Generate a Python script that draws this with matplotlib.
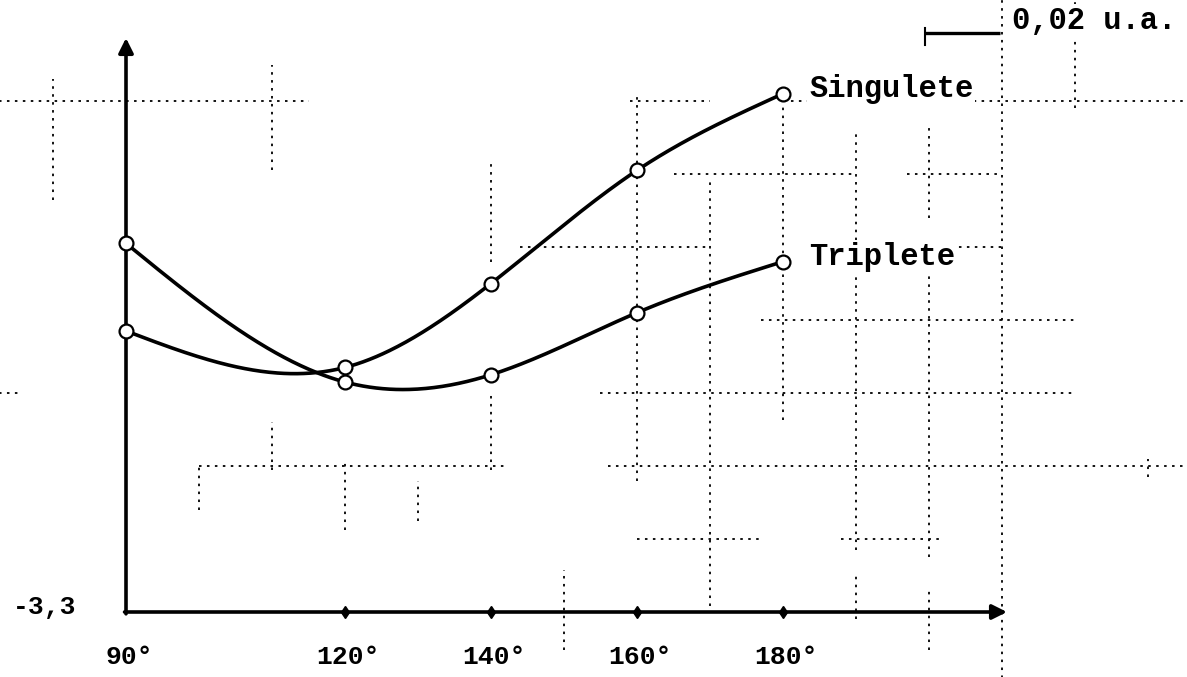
import numpy as np
import matplotlib
matplotlib.use("Agg")
import matplotlib.pyplot as plt

# ---------------- data ----------------
angles = [90, 120, 140, 160, 180]
singulete = [-3.223, -3.233, -3.210, -3.179, -3.158]
triplete = [-3.199, -3.237, -3.235, -3.218, -3.204]
tick_labels = ["90°", "120°", "140°", "160°", "180°"]
y_label_value = -3.3
series_names = ["Singulete", "Triplete"]
scale_text = "0,02 u.a."

# graph-paper background (grid units: col -> 10°, row -> 0.02 u.a.)
grid_h = [(7, -1.75, 2.5), (7, 6.9, 8.0), (7, 9.0, 14.6),
          (6, 7.5, 10.0), (6, 10.7, 12.0),
          (5, 5.4, 8.0), (5, 11.3, 12.0),
          (4, 8.7, 13.0),
          (3, -1.75, -1.45), (3, 6.5, 13.0),
          (2, 1.0, 5.2), (2, 6.6, 14.6),
          (1, 7.0, 8.7), (1, 9.8, 11.2)]
grid_v = [(-1, 5.64, 7.3), (1, 1.4, 2.0), (2, 6.05, 7.5), (2, 1.95, 2.6),
          (3, 1.12, 2.08), (4, 1.25, 1.8), (5, 4.8, 6.2), (5, 1.95, 2.97),
          (6, -0.52, 0.58), (7, 1.8, 7.05), (8, 0.08, 5.95), (9, 2.63, 6.93),
          (10, 0.85, 6.6), (10, -0.1, 0.5), (11, 5.4, 6.64), (11, 0.75, 5.03),
          (11, -0.52, 0.3), (12, -0.95, 8.4), (13, 6.9, 8.4), (14, 1.85, 2.1)]


def natural_spline(x, y, xs):
    x = np.asarray(x, float)
    y = np.asarray(y, float)
    n = len(x)
    h = np.diff(x)
    A = np.zeros((n, n))
    b = np.zeros(n)
    A[0, 0] = A[-1, -1] = 1.0
    for i in range(1, n - 1):
        A[i, i - 1] = h[i - 1]
        A[i, i] = 2 * (h[i - 1] + h[i])
        A[i, i + 1] = h[i]
        b[i] = 3 * ((y[i + 1] - y[i]) / h[i] - (y[i] - y[i - 1]) / h[i - 1])
    c = np.linalg.solve(A, b)
    out = np.empty_like(xs)
    for k, xv in enumerate(xs):
        i = min(max(np.searchsorted(x, xv) - 1, 0), n - 2)
        dx = xv - x[i]
        bi = (y[i + 1] - y[i]) / h[i] - h[i] * (2 * c[i] + c[i + 1]) / 3
        di = (c[i + 1] - c[i]) / (3 * h[i])
        out[k] = y[i] + bi * dx + c[i] * dx ** 2 + di * dx ** 3
    return out


# ---------------- figure ----------------
W, H = 1187, 677
fig = plt.figure(figsize=(W / 100, H / 100), dpi=100)
ax = fig.add_axes([0, 0, 1, 1])
PX_DEG = 7.3
PX_UA = 3650.0
X0, Y0 = 126, 612
ax.set_xlim(90 - X0 / PX_DEG, 90 + (W - X0) / PX_DEG)
ax.set_ylim(y_label_value - (H - Y0) / PX_UA, y_label_value + Y0 / PX_UA)
ax.axis("off")

mono = ["Liberation Mono", "DejaVu Sans Mono"]
grid_kw = dict(color="black", lw=1.3, ls=(0, (1.4, 3.0)), zorder=1)
for row, c0, c1 in grid_h:
    yv = y_label_value + 0.02 * row
    ax.plot([90 + 10 * c0, 90 + 10 * c1], [yv, yv], **grid_kw)
for col, r0, r1 in grid_v:
    xv = 90 + 10 * col
    ax.plot([xv, xv], [y_label_value + 0.02 * r0, y_label_value + 0.02 * r1], **grid_kw)

# axes with arrows
x_end = ax.get_xlim()[0] + (1007 / W) * (ax.get_xlim()[1] - ax.get_xlim()[0])
y_end = ax.get_ylim()[1] - (38 / H) * (ax.get_ylim()[1] - ax.get_ylim()[0])
arrow = dict(arrowstyle="-|>", lw=2.6, color="black", mutation_scale=22, shrinkA=0, shrinkB=0)
ax.annotate("", xy=(x_end, y_label_value), xytext=(angles[0] - 0.2, y_label_value),
            arrowprops=arrow, zorder=3)
ax.annotate("", xy=(angles[0], y_end), xytext=(angles[0], y_label_value - 0.0005),
            arrowprops=arrow, zorder=3)

# x ticks and labels
ax.plot(angles[1:], [y_label_value] * (len(angles) - 1), ls="none", marker="d",
        ms=6, color="black", zorder=4)
for a, lab in zip(angles, tick_labels):
    ax.annotate(lab, xy=(a, y_label_value), xytext=(3, -45), textcoords="offset pixels",
                ha="center", va="center", fontsize=19, family=mono, fontweight="bold")
ax.annotate("-3,3", xy=(angles[0], y_label_value), xytext=(-81, 5),
            textcoords="offset pixels", ha="center", va="center",
            fontsize=19, family=mono, fontweight="bold")

# curves
xs = np.linspace(angles[0], angles[-1], 400)
label_box = dict(facecolor="white", edgecolor="none", pad=1.0)
for vals, name in zip([singulete, triplete], series_names):
    ax.plot(xs, natural_spline(angles, vals, xs), color="black", lw=2.6,
            solid_capstyle="round", zorder=5)
    ax.plot(angles, vals, ls="none", marker="o", ms=10, mfc="white", mec="black",
            mew=1.6, zorder=6)
    ax.annotate(name, xy=(angles[-1], vals[-1]), xytext=(26, 5), textcoords="offset pixels",
                ha="left", va="center", fontsize=22, family=mono, fontweight="bold",
                bbox=label_box, zorder=7)

# scale bar
ax.plot([925 / W, 1000 / W], [1 - 33 / H, 1 - 33 / H], transform=ax.transAxes,
        color="black", lw=2.4, solid_capstyle="butt")
ax.plot([925 / W, 925 / W], [1 - 28 / H, 1 - 45 / H], transform=ax.transAxes,
        color="black", lw=1.5)
ax.text(1012 / W, 1 - 21 / H, scale_text, transform=ax.transAxes, ha="left",
        va="center", fontsize=22, family=mono, fontweight="bold",
        bbox=label_box, zorder=7)

fig.savefig("out.png", dpi=100, facecolor="white")
